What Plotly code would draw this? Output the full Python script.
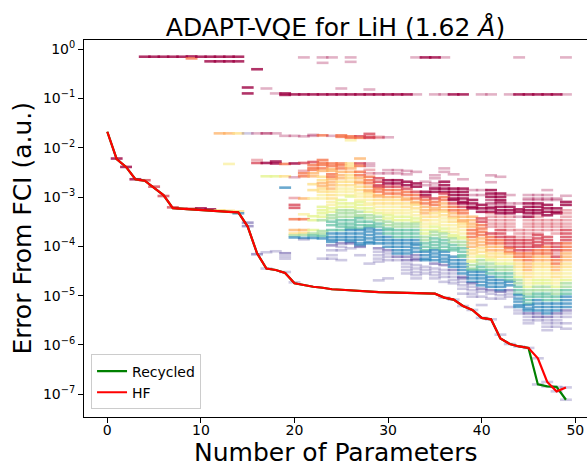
import plotly.graph_objects as go

# ---------------- data ----------------
params = list(range(50))

hf_logerr = [-1.677, -2.23, -2.39, -2.64, -2.67, -2.81, -2.96, -3.225, -3.24, -3.25,
             -3.26, -3.27, -3.285, -3.30, -3.31, -3.60, -4.14, -4.45, -4.48, -4.54,
             -4.75, -4.79, -4.82, -4.84, -4.87, -4.88, -4.895, -4.91, -4.92, -4.93,
             -4.935, -4.94, -4.945, -4.95, -4.955, -4.96, -5.04, -5.08, -5.21, -5.29,
             -5.45, -5.48, -5.87, -5.98, -6.03, -6.06, -6.27, -6.75, -6.94, -6.86]

recycled_logerr = [-1.677, -2.23, -2.39, -2.64, -2.67, -2.81, -2.96, -3.225, -3.24, -3.25,
                   -3.26, -3.27, -3.285, -3.30, -3.31, -3.60, -4.14, -4.45, -4.48, -4.54,
                   -4.75, -4.79, -4.82, -4.84, -4.87, -4.88, -4.895, -4.91, -4.92, -4.93,
                   -4.935, -4.94, -4.945, -4.95, -4.955, -4.96, -5.04, -5.08, -5.21, -5.29,
                   -5.45, -5.48, -5.87, -5.98, -6.03, -6.06, -6.80, -6.84, -6.85, -7.11]

# log10 error of every candidate dash, one list per parameter count
dash_logerr = [
    [],
    [-2.22],
    [-2.39],
    [-2.64],
    [-0.156, -2.66],
    [-0.156, -2.79],
    [-0.156, -2.98],
    [-0.156, -3.21],
    [-0.156, -3.23],
    [-0.15, -0.19, -3.24],
    [-0.156, -3.23],
    [-0.156, -0.25, -3.25],
    [-0.156, -0.25, -1.71, -3.27],
    [-0.156, -0.25, -1.71, -2.33, -3.28],
    [-0.156, -0.25, -1.71, -3.29, -3.33],
    [-0.78, -0.90, -1.71, -3.52, -3.59],
    [-0.41, -1.71, -2.25, -2.31, -4.16],
    [-0.80, -1.71, -2.31, -2.58, -4.12, -4.45],
    [-0.90, -1.71, -2.28, -2.32, -2.58, -4.10],
    [-0.90, -0.93, -1.76, -2.33, -2.58, -2.81, -4.14, -4.20, -4.25, -4.52],
    [-0.92, -1.76, -2.32, -2.60, -3.02, -3.16, -3.22, -3.45, -3.67, -3.74, -3.78, -3.82, -4.73],
    [-0.17, -0.92, -1.77, -2.31, -2.47, -2.52, -2.58, -3.03, -3.35, -3.45, -3.67, -3.73, -3.77,
     -3.83, -3.86],
    [-0.92, -1.74, -1.76, -2.29, -2.35, -2.41, -2.45, -2.52, -2.58, -2.74, -2.86, -3.03, -3.39,
     -3.47, -3.67, -3.74, -3.78, -3.83],
    [-0.17, -0.28, -0.92, -1.75, -2.25, -2.31, -2.35, -2.42, -2.47, -2.59, -2.66, -2.72, -2.78,
     -2.83, -2.89, -2.96, -3.03, -3.20, -3.27, -3.33, -3.40, -3.47, -3.69, -3.74, -3.79, -3.84,
     -4.25],
    [-0.17, -0.92, -1.76, -2.32, -2.37, -2.43, -2.47, -2.54, -2.59, -2.64, -2.70, -2.76, -2.83,
     -2.89, -2.96, -3.03, -3.10, -3.16, -3.23, -3.30, -3.37, -3.43, -3.50, -3.57, -3.67, -3.74,
     -3.81, -3.87, -3.91, -3.98, -4.08, -4.18, -4.25],
    [-0.80, -0.92, -1.75, -1.78, -2.32, -2.36, -2.42, -2.49, -2.56, -2.62, -2.69, -2.76, -2.83,
     -2.89, -2.96, -3.06, -3.13, -3.20, -3.27, -3.33, -3.40, -3.47, -3.54, -3.60, -3.67, -3.74,
     -3.81, -3.87, -3.94, -4.01, -4.08, -4.28],
    [-0.17, -0.26, -0.92, -1.77, -1.80, -1.85, -2.32, -2.37, -2.42, -2.49, -2.56, -2.62, -2.69,
     -2.76, -2.83, -2.89, -2.96, -2.99, -3.13, -3.20, -3.27, -3.33, -3.40, -3.47, -3.54, -3.60,
     -3.64, -3.67, -3.74, -3.81, -3.87, -3.91, -3.94, -4.04],
    [-0.92, -1.77, -1.80, -2.22, -2.32, -2.37, -2.49, -2.56, -2.62, -2.69, -2.72, -2.79, -2.86,
     -2.93, -2.99, -3.06, -3.10, -3.16, -3.23, -3.30, -3.37, -3.40, -3.43, -3.50, -3.57, -3.64,
     -3.67, -3.74, -3.81, -3.87, -3.94, -3.98, -4.01, -4.18],
    [-0.82, -0.92, -1.72, -1.78, -1.80, -2.32, -2.37, -2.45, -2.52, -2.59, -2.66, -2.72, -2.79,
     -2.86, -2.89, -2.93, -2.99, -3.06, -3.13, -3.16, -3.23, -3.30, -3.37, -3.43, -3.50, -3.57,
     -3.60, -3.64, -3.70, -3.77, -3.84, -3.91, -3.94, -4.35],
    [-0.92, -1.78, -1.80, -2.52, -2.62, -2.69, -2.76, -2.79, -2.83, -2.89, -2.96, -2.99, -3.06,
     -3.13, -3.20, -3.27, -3.33, -3.40, -3.47, -3.54, -3.60, -3.67, -3.74, -3.81, -3.87, -3.94,
     -4.04, -4.11, -4.18, -4.25, -4.31, -4.69],
    [-0.92, -1.79, -2.455, -2.52, -2.66, -2.725, -2.79, -2.86, -2.93, -3.00, -3.06, -3.13, -3.20,
     -3.27, -3.33, -3.37, -3.435, -3.50, -3.57, -3.64, -3.67, -3.74, -3.81, -3.875, -3.94, -4.01,
     -4.08, -4.145, -4.21, -4.28, -4.65],
    [-0.92, -2.455, -2.52, -2.66, -2.725, -2.79, -2.86, -2.93, -2.995, -3.06, -3.13, -3.20, -3.27,
     -3.33, -3.40, -3.47, -3.54, -3.60, -3.67, -3.74, -3.81, -3.875, -3.94, -4.01, -4.08, -4.145,
     -4.21, -4.28],
    [-0.92, -2.47, -2.54, -2.69, -2.76, -2.83, -2.895, -2.96, -3.03, -3.06, -3.13, -3.20, -3.27,
     -3.33, -3.40, -3.47, -3.54, -3.60, -3.67, -3.74, -3.81, -3.875, -3.94, -4.01, -4.08, -4.145,
     -4.21, -4.28, -4.35, -4.415, -4.48, -4.55],
    [-0.17, -0.92, -2.49, -2.725, -2.79, -2.895, -2.96, -3.03, -3.10, -3.13, -3.16, -3.23, -3.30,
     -3.37, -3.435, -3.50, -3.54, -3.60, -3.67, -3.74, -3.81, -3.875, -3.94, -3.975, -4.04, -4.11,
     -4.18, -4.25, -4.28, -4.38, -4.45, -4.52, -4.585, -4.65],
    [-0.17, -2.69, -2.76, -2.895, -2.96, -3.00, -3.06, -3.13, -3.20, -3.27, -3.33, -3.40, -3.47,
     -3.54, -3.60, -3.67, -3.74, -3.81, -3.875, -3.94, -4.01, -4.08, -4.11, -4.18, -4.25, -4.28,
     -4.415, -4.48, -4.55],
    [-0.17, -0.92, -2.56, -2.62, -2.725, -2.79, -2.83, -2.895, -3.03, -3.10, -3.16, -3.23, -3.27,
     -3.33, -3.40, -3.47, -3.54, -3.60, -3.67, -3.705, -3.77, -3.84, -3.91, -3.975, -4.04, -4.08,
     -4.145, -4.21, -4.28, -4.35, -4.45, -4.52, -4.585, -4.65],
    [-0.17, -0.92, -2.42, -2.49, -2.69, -2.76, -2.83, -2.895, -2.93, -3.00, -3.06, -3.13, -3.20,
     -3.27, -3.30, -3.37, -3.435, -3.50, -3.57, -3.64, -3.705, -3.74, -3.81, -3.875, -3.94, -4.01,
     -4.08, -4.11, -4.18, -4.25, -4.31, -4.38, -4.48, -4.55, -4.62, -4.72, -5.04],
    [-0.92, -2.54, -2.83, -2.895, -2.96, -3.03, -3.06, -3.13, -3.20, -3.27, -3.33, -3.40, -3.435,
     -3.50, -3.57, -3.64, -3.705, -3.77, -3.81, -3.84, -3.91, -3.975, -4.04, -4.08, -4.21, -4.28,
     -4.35, -4.415, -4.48, -4.55, -4.62, -4.685, -4.75, -5.08],
    [-0.92, -2.64, -2.83, -2.895, -2.96, -3.03, -3.10, -3.13, -3.20, -3.27, -3.33, -3.40, -3.47,
     -3.50, -3.54, -3.60, -3.67, -3.74, -3.81, -3.84, -3.91, -3.975, -4.04, -4.11, -4.18, -4.21,
     -4.28, -4.35, -4.415, -4.48, -4.55, -4.62, -4.65, -4.72, -4.79, -4.86, -4.96, -5.21],
    [-2.86, -2.96, -3.06, -3.13, -3.20, -3.23, -3.40, -3.47, -3.54, -3.60, -3.67, -3.74, -3.81,
     -3.875, -3.94, -4.01, -4.08, -4.145, -4.21, -4.28, -4.31, -4.38, -4.45, -4.48, -4.52, -4.585,
     -4.65, -4.72, -4.75, -4.82, -4.89, -4.96, -5.02, -5.29],
    [-0.92, -2.86, -2.96, -3.16, -3.23, -3.30, -3.435, -3.50, -3.57, -3.64, -3.705, -3.77, -3.84,
     -3.91, -3.975, -4.04, -4.11, -4.18, -4.21, -4.28, -4.35, -4.415, -4.48, -4.52, -4.585, -4.65,
     -4.72, -4.79, -4.86, -4.92, -5.02, -5.19, -5.45],
    [-0.92, -2.56, -2.70, -2.86, -2.93, -2.995, -3.06, -3.13, -3.20, -3.23, -3.30, -3.33, -3.40,
     -3.47, -3.54, -3.60, -3.74, -3.81, -3.875, -3.94, -4.01, -4.08, -4.145, -4.21, -4.25, -4.28,
     -4.35, -4.415, -4.48, -4.55, -4.62, -4.685, -4.75, -4.82, -4.89, -4.96, -5.06, -5.48],
    [-2.59, -2.93, -2.995, -3.06, -3.10, -3.13, -3.20, -3.27, -3.33, -3.40, -3.47, -3.54, -3.60,
     -3.67, -3.74, -3.81, -3.875, -3.94, -4.01, -4.08, -4.145, -4.21, -4.28, -4.35, -4.415, -4.48,
     -4.55, -4.62, -4.685, -4.75, -4.82, -4.89, -4.92, -4.99, -5.06, -5.79],
    [-0.92, -2.96, -3.13, -3.20, -3.27, -3.33, -3.40, -3.47, -3.54, -3.60, -3.67, -3.81, -3.875,
     -3.94, -4.01, -4.04, -4.11, -4.145, -4.21, -4.28, -4.35, -4.415, -4.48, -4.55, -4.62, -4.685,
     -4.72, -4.79, -4.89, -4.96, -5.02, -5.23, -5.98],
    [-0.17, -0.92, -3.13, -3.25, -3.30, -3.40, -3.67, -3.74, -3.81, -3.875, -3.94, -4.01, -4.08,
     -4.145, -4.21, -4.28, -4.35, -4.415, -4.48, -4.55, -4.62, -4.685, -4.75, -4.82, -4.89, -4.96,
     -4.99, -5.06, -5.12, -5.19, -5.23, -5.30, -5.36, -6.03],
    [-0.92, -2.96, -3.03, -3.06, -3.13, -3.20, -3.27, -3.33, -3.40, -3.47, -3.54, -3.60, -3.67,
     -3.74, -3.81, -3.875, -3.94, -4.01, -4.08, -4.145, -4.21, -4.28, -4.35, -4.415, -4.48, -4.55,
     -4.62, -4.685, -4.75, -4.82, -4.89, -4.96, -5.02, -5.09, -5.16, -5.19, -5.26, -5.30, -5.36,
     -5.43, -5.50, -5.56, -6.06],
    [-0.92, -2.96, -3.03, -3.06, -3.13, -3.20, -3.27, -3.33, -3.40, -3.47, -3.54, -3.60, -3.67,
     -3.74, -3.77, -3.84, -3.91, -3.975, -4.01, -4.08, -4.145, -4.21, -4.28, -4.35, -4.415, -4.48,
     -4.55, -4.62, -4.685, -4.75, -4.82, -4.89, -4.96, -5.02, -5.09, -5.16, -5.23, -5.30, -5.36,
     -5.43, -5.50, -6.27, -6.80],
    [-0.92, -2.86, -2.96, -3.03, -3.06, -3.16, -3.23, -3.30, -3.37, -3.47, -3.54, -3.60, -3.67,
     -3.81, -3.875, -3.94, -4.01, -4.08, -4.145, -4.21, -4.28, -4.35, -4.415, -4.48, -4.55, -4.62,
     -4.685, -4.75, -4.82, -4.89, -4.96, -5.02, -5.09, -5.16, -5.23, -5.30, -5.36, -5.43, -5.50,
     -5.56, -5.63, -5.70, -6.75, -6.84],
    [-0.92, -3.03, -3.06, -3.23, -3.30, -3.33, -3.47, -3.54, -3.60, -3.67, -3.74, -3.94, -4.01,
     -4.08, -4.145, -4.21, -4.28, -4.35, -4.415, -4.48, -4.55, -4.62, -4.685, -4.75, -4.82, -4.89,
     -4.96, -5.02, -5.09, -5.16, -5.23, -5.30, -5.36, -5.43, -5.50, -5.56, -5.63, -6.85, -6.94],
    [-0.17, -0.92, -2.975, -3.10, -3.16, -3.27, -3.33, -3.40, -3.47, -3.54, -3.60, -3.67, -3.74,
     -3.81, -3.875, -3.94, -4.01, -4.08, -4.145, -4.21, -4.28, -4.35, -4.415, -4.48, -4.55, -4.62,
     -4.685, -4.75, -4.82, -4.89, -4.96, -5.02, -5.09, -5.16, -5.23, -5.30, -5.36, -5.43, -5.56,
     -5.67, -6.86, -7.11],
]

# colour code of each dash (one character per dash, same order as dash_logerr)
dash_tone = [
    '', 'K', 'K', 'K', 'KR', 'KR', 'KR', 'KR', 'Kr', 'KOR',
    'KK', 'KKK', 'KKoY', 'KKoyY', 'KKYYB', 'KKVWW', 'KPrRW', 'PMKGVV', 'PPKKGV', 'KKPOYBWVVV',
    'KPKPrRROoYgBV',
    'PKPRrOOoyOoYgBV',
    'KPPROOOooYYyGGGgTB',
    'PPKOOOOOoYYooYYyyGGGGgggTBV',
    'PKP' 'OOooOOoo' 'ooYY' 'YyyG' 'GggTT' 'TBBBB' 'WVVV',
    'PKOO' 'OOOooo' 'YYyyy' 'GGGggg' 'TTTT' 'BBB' 'WVVV',
    'PPKOOy' 'YYooYYYY' 'yyyG' 'GGgggTTTT' 'BBBBB' 'WV',
    'KRO' 'oRO' 'OOooo' 'YYyyy' 'GGGggg' 'TTTT' 'BBBBBB' 'WV',
    'PKRRR' 'PPrr' 'OOOooo' 'YYyyy' 'GGggTTT' 'BBBBBB' 'V',
    'Krr' 'PRRRR' 'OOoo' 'YYyy' 'GggT' 'TBBBBB' 'WVVVV' 'V',
    'KP' 'PPKK' 'ROO' 'oYYyyy' 'GGggT' 'TTBBBB' 'WVVVV',
    'K' 'PPKK' 'ROOo' 'YYyyyG' 'GggTT' 'TBBBBB' 'WV',
    'K' 'PPKK' 'ROOoo' 'YYyyGG' 'ggTTTB' 'BBBBWW' 'VVVV',
    'PP' 'PKK' 'ROOoo' 'YYyyGG' 'ggTTTBB' 'BBBWWW' 'VVVVV',
    'K' 'PPKK' 'ROOooo' 'YYyyG' 'GggTTT' 'BBBB' 'VVV',
    'KP' 'PPPPKK' 'ROOoo' 'YYyyGG' 'ggTTTTB' 'BBBW' 'VVVV',
    'PP' 'PPKKKK' 'ROOooo' 'YYyyyGG' 'ggTTTT' 'BBBBW' 'VVVV' 'V',
    'K' 'PKKKKK' 'ROOoo' 'YYyyyGG' 'ggTTT' 'BBBBW' 'VVVV' 'V',
    'K' 'PKKKKKK' 'ROOooo' 'YYyyGG' 'ggTTTT' 'BBBBBWW' 'VVVV' 'V',
    'PPKKKK' 'oooo' 'OOOooo' 'YYyy' 'GggT' 'BBBBW' 'VVVV' 'V',
    'P' 'PPKKK' 'RROOOOooo' 'YYy' 'GggTT' 'BBBBBW' 'VVVV',
    'P' 'PPKKK' 'MMMKK' 'rrrrr' 'ROOOoo' 'YYy' 'GggTT' 'BBBBW' 'VVV',
    'PKKKMM' 'KKK' 'rrrr' 'RRR' 'OOoo' 'YYy' 'GggTT' 'BBBB' 'WVVV',
    'P' 'PPKKK' 'rrrrr' 'RRRR' 'OOo' 'Yy' 'GggTTT' 'BB' 'WVVVV',
    'PK' 'PKKP' 'rrr' 'RRRR' 'OOo' 'YYyyG' 'ggTTT' 'BBBBB' 'VVV',
    'K' 'PPP' 'KKKKK' 'rrrrrr' 'RRRR' 'OOOooo' 'YYyyG' 'ggTTT' 'BBBW' 'VVVV',
    'K' 'PPP' 'KKKK' 'rrrrrr' 'RRRRR' 'OOoo' 'YYyyy' 'GGggTT' 'BBBBWW' 'VVV',
    'K' 'PPPP' 'KKKK' 'rrrr' 'RRR' 'OOOoo' 'YYyyy' 'GGggTTT' 'BBBBW' 'VVVVVV',
    'K' 'PPKKK' 'rrrrr' 'RRRrR' 'OOoo' 'YYyy' 'GggTT' 'BBB' 'WVVVV' 'VV',
    'PP' 'PKK' 'rrrrrr' 'RRRROOO' 'ooo' 'YYyyy' 'GggTT' 'BBBB' 'WVVVV' 'VV',
]

# Spectral-style palette used for the dashes
tone_rgba = {
    'K': 'rgba(158,1,66,0.8)',
    'M': 'rgba(158,1,66,0.55)',
    'P': 'rgba(158,1,66,0.3)',
    'R': 'rgba(213,62,79,0.75)',
    'r': 'rgba(213,62,79,0.4)',
    'O': 'rgba(244,109,67,0.75)',
    'o': 'rgba(253,174,97,0.72)',
    'Y': 'rgba(254,224,139,0.8)',
    'y': 'rgba(250,240,165,0.8)',
    'G': 'rgba(230,245,152,0.85)',
    'g': 'rgba(171,221,164,0.8)',
    'T': 'rgba(102,194,165,0.75)',
    'B': 'rgba(50,136,189,0.72)',
    'W': 'rgba(94,79,162,0.55)',
    'V': 'rgba(94,79,162,0.3)',
}

ytick_exp = [0, -1, -2, -3, -4, -5, -6, -7]
xtick_vals = [0, 10, 20, 30, 40, 50]

# ---------------- figure ----------------
dx, dy, dc = [], [], []
for p, (vals, tones) in enumerate(zip(dash_logerr, dash_tone)):
    for v, t in zip(vals, tones):
        dx.append(p)
        dy.append(10 ** v)
        dc.append(tone_rgba[t])

fig = go.Figure()
fig.add_trace(go.Scatter(
    x=dx, y=dy, mode='markers', showlegend=False, hoverinfo='skip',
    marker=dict(symbol='line-ew', size=8.5, color=dc, line=dict(color=dc, width=2.6)),
))
fig.add_trace(go.Scatter(
    x=params, y=[10 ** v for v in recycled_logerr], mode='lines', name='Recycled',
    line=dict(color='#008000', width=2.2),
))
fig.add_trace(go.Scatter(
    x=params, y=[10 ** v for v in hf_logerr], mode='lines', name='HF',
    line=dict(color='#ff0000', width=2.2),
))

font_family = 'DejaVu Sans'
fig.update_layout(
    width=587, height=468,
    margin=dict(l=84, r=0, t=40, b=51),
    paper_bgcolor='white', plot_bgcolor='white',
    font=dict(family=font_family, color='black', size=14),
    title=dict(text='ADAPT-VQE for LiH (1.62 <i>Å</i>)', x=0.5, xref='paper', xanchor='center',
               y=1 - 27 / 468, yref='container', yanchor='middle',
               font=dict(size=25, family=font_family, color='black')),
    legend=dict(x=0.014, y=0.02, xanchor='left', yanchor='bottom',
                bgcolor='rgba(255,255,255,0.85)', bordercolor='#cccccc', borderwidth=1,
                font=dict(size=14, family=font_family), tracegroupgap=0),
    annotations=[
        dict(text='Number of Parameters', x=0.5, y=(416.7 - 452.5) / 376.7, xref='paper', yref='paper',
             xanchor='center', yanchor='middle', showarrow=False,
             font=dict(size=25, family=font_family, color='black')),
        dict(text='Error From FCI (a.u.)', x=(22 - 84) / 503, y=0.5, xref='paper', yref='paper',
             xanchor='center', yanchor='middle', showarrow=False, textangle=-90,
             font=dict(size=25, family=font_family, color='black')),
    ],
)
fig.update_xaxes(
    range=[-2.49, 51.25], tickvals=xtick_vals, ticks='outside', ticklen=5, tickwidth=1,
    tickcolor='black', showline=True, linecolor='black', linewidth=1, mirror=True,
    showgrid=False, zeroline=False, ticklabelstandoff=-5,
    tickfont=dict(size=14, family=font_family, color='black'),
)
fig.update_yaxes(
    type='log', range=[-7.46, 0.183],
    tickvals=[10 ** e for e in ytick_exp],
    ticktext=['10<sup>%s</sup>' % (str(e).replace('-', '\u2212')) for e in ytick_exp],
    ticks='outside', ticklen=5, tickwidth=1, tickcolor='black',
    showline=True, linecolor='black', linewidth=1, mirror=False,
    showgrid=False, zeroline=False, tickfont=dict(size=14, family=font_family, color='black'),
)

fig.write_html('out.html')
